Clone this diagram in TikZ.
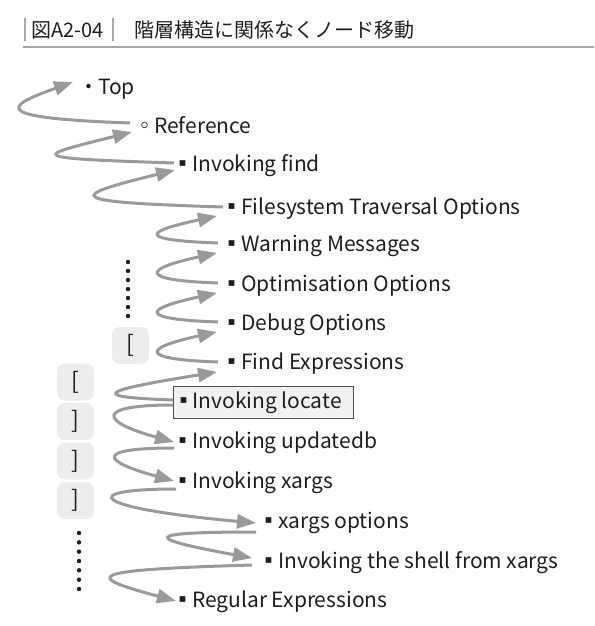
\documentclass[tikz,border=0pt]{standalone}
\usepackage{fontspec}
\setmainfont{Noto Sans CJK JP}
\usepackage{tikz}
\usetikzlibrary{arrows.meta}
\definecolor{txt}{HTML}{1E1E1E}
\definecolor{arr}{HTML}{9A9A9A}
\definecolor{boxfill}{HTML}{F1F1F1}
\definecolor{boxline}{HTML}{505050}
\definecolor{brkfill}{HTML}{EDEDED}
\definecolor{rule}{HTML}{A8A8A8}
\newcommand{\bl}[1]{\makebox[18pt][c]{#1}}

\begin{document}
\begin{tikzpicture}[x=1pt, y=-1pt,
  item/.style={anchor=west, inner sep=0pt, text height=16pt, text depth=3pt, text=txt, font=\fontsize{21}{25}\selectfont},
  mv/.style={draw=arr, line width=3pt, -{Triangle[length=19pt, width=14pt]}},
  brk/.style={fill=brkfill, rounded corners=8pt, minimum width=37pt, minimum height=37pt, inner sep=0pt, text=txt, font=\fontsize{23}{24}\selectfont},
  ttl/.style={anchor=west, inner sep=0pt, text=txt, font=\fontsize{20}{24}\selectfont}]
  \useasboundingbox (0,0) rectangle (594,626);
  \draw[rule, line width=1.8pt] (25,18) -- (25,41) (113,18) -- (113,41);
  \draw[rule, line width=1.5pt] (23,47) -- (594,47);
  \node[ttl] (fig) at (31,30) {図A2-04};
  \node[ttl] (cap) at (134,30) {階層構造に関係なくノード移動};

  \node[item] (top) at (80,88) {\bl{・}Top};
  \node[item] (ref) at (136,127) {\bl{◦}Reference};
  \node[item] (find) at (174,165) {\bl{▪}Invoking find};
  \node[item] (fs) at (223,208) {\bl{▪}Filesystem Traversal Options};
  \node[item] (warn) at (223,245) {\bl{▪}Warning Messages};
  \node[item] (opt) at (223,285) {\bl{▪}Optimisation Options};
  \node[item] (dbg) at (223,324) {\bl{▪}Debug Options};
  \node[item] (fexp) at (223,363) {\bl{▪}Find Expressions};
  \node[item, draw=boxline, fill=boxfill, line width=1pt, inner xsep=1pt, inner ysep=6.5pt] (loc) at (173,402) {\makebox[178pt][l]{\bl{▪}Invoking locate}};
  \node[item] (upd) at (174,442) {\bl{▪}Invoking updatedb};
  \node[item] (xrg) at (174,482) {\bl{▪}Invoking xargs};
  \node[item] (xopt) at (260,522) {\bl{▪}xargs options};
  \node[item] (shell) at (260,562) {\bl{▪}Invoking the shell from xargs};
  \node[item] (regex) at (174,601) {\bl{▪}Regular Expressions};

  \node[brk] (b1) at (130.5,345.5) {[};
  \node[brk] (b2) at (75.5,382) {[};
  \node[brk] (b3) at (75.5,421.5) {]};
  \node[brk] (b4) at (75.5,461) {]};
  \node[brk] (b5) at (75.5,500.5) {]};
  \foreach \k in {0,...,6} \fill[txt] (128,262+9*\k) circle (2.2pt);
  \foreach \k in {0,...,6} \fill[txt] (79,533+9.33*\k) circle (2.2pt);

  \draw[mv] ([shift={(-6,-4)}]ref.west) .. controls +(-140,-5) and +(-70,25) .. ([shift={(-7,-6)}]top.west);
  \draw[mv] ([shift={(0,-2)}]find.west) .. controls +(-150,-5) and +(-100,25) .. ([shift={(-4,5)}]ref.west);
  \draw[mv] ([shift={(0,-1)}]fs.west) .. controls +(-160,-5) and +(-110,27) .. ([shift={(1,5)}]find.west);
  \draw[mv] ([shift={(-5,-2)}]warn.west) .. controls +(-85,-3) and +(-70,15) .. ([shift={(-6,8)}]fs.west);
  \draw[mv] ([shift={(-5,-2)}]opt.west) .. controls +(-85,-3) and +(-70,15) .. ([shift={(-6,8)}]warn.west);
  \draw[mv] ([shift={(-5,-2)}]dbg.west) .. controls +(-85,-3) and +(-70,15) .. ([shift={(-6,8)}]opt.west);
  \draw[mv] ([shift={(-5,-1)}]fexp.west) .. controls +(-85,-3) and +(-70,15) .. ([shift={(-6,8)}]dbg.west);
  \draw[mv] ([shift={(0,-2)}]loc.west) .. controls +(-80,-3) and +(-125,20) .. ([shift={(-6,9)}]fexp.west);
  \draw[mv] ([shift={(0,3)}]loc.west) .. controls +(-80,0) and +(-73,-20) .. (upd.west);
  \draw[mv] ([shift={(0,6)}]upd.west) .. controls +(-80,0) and +(-73,-20) .. ([shift={(0,-1)}]xrg.west);
  \draw[mv] ([shift={(2,7)}]xrg.west) .. controls +(-100,0) and +(-167,-15) .. ([shift={(-4,1)}]xopt.west);
  \draw[mv] ([shift={(-4,10)}]xopt.west) .. controls +(-115,0) and +(-109,-20) .. ([shift={(-8,-4)}]shell.west);
  \draw[mv] ([shift={(-8,3)}]shell.west) .. controls +(-170,5) and +(-93,-25) .. ([shift={(2,0)}]regex.west);
\end{tikzpicture}
\end{document}
